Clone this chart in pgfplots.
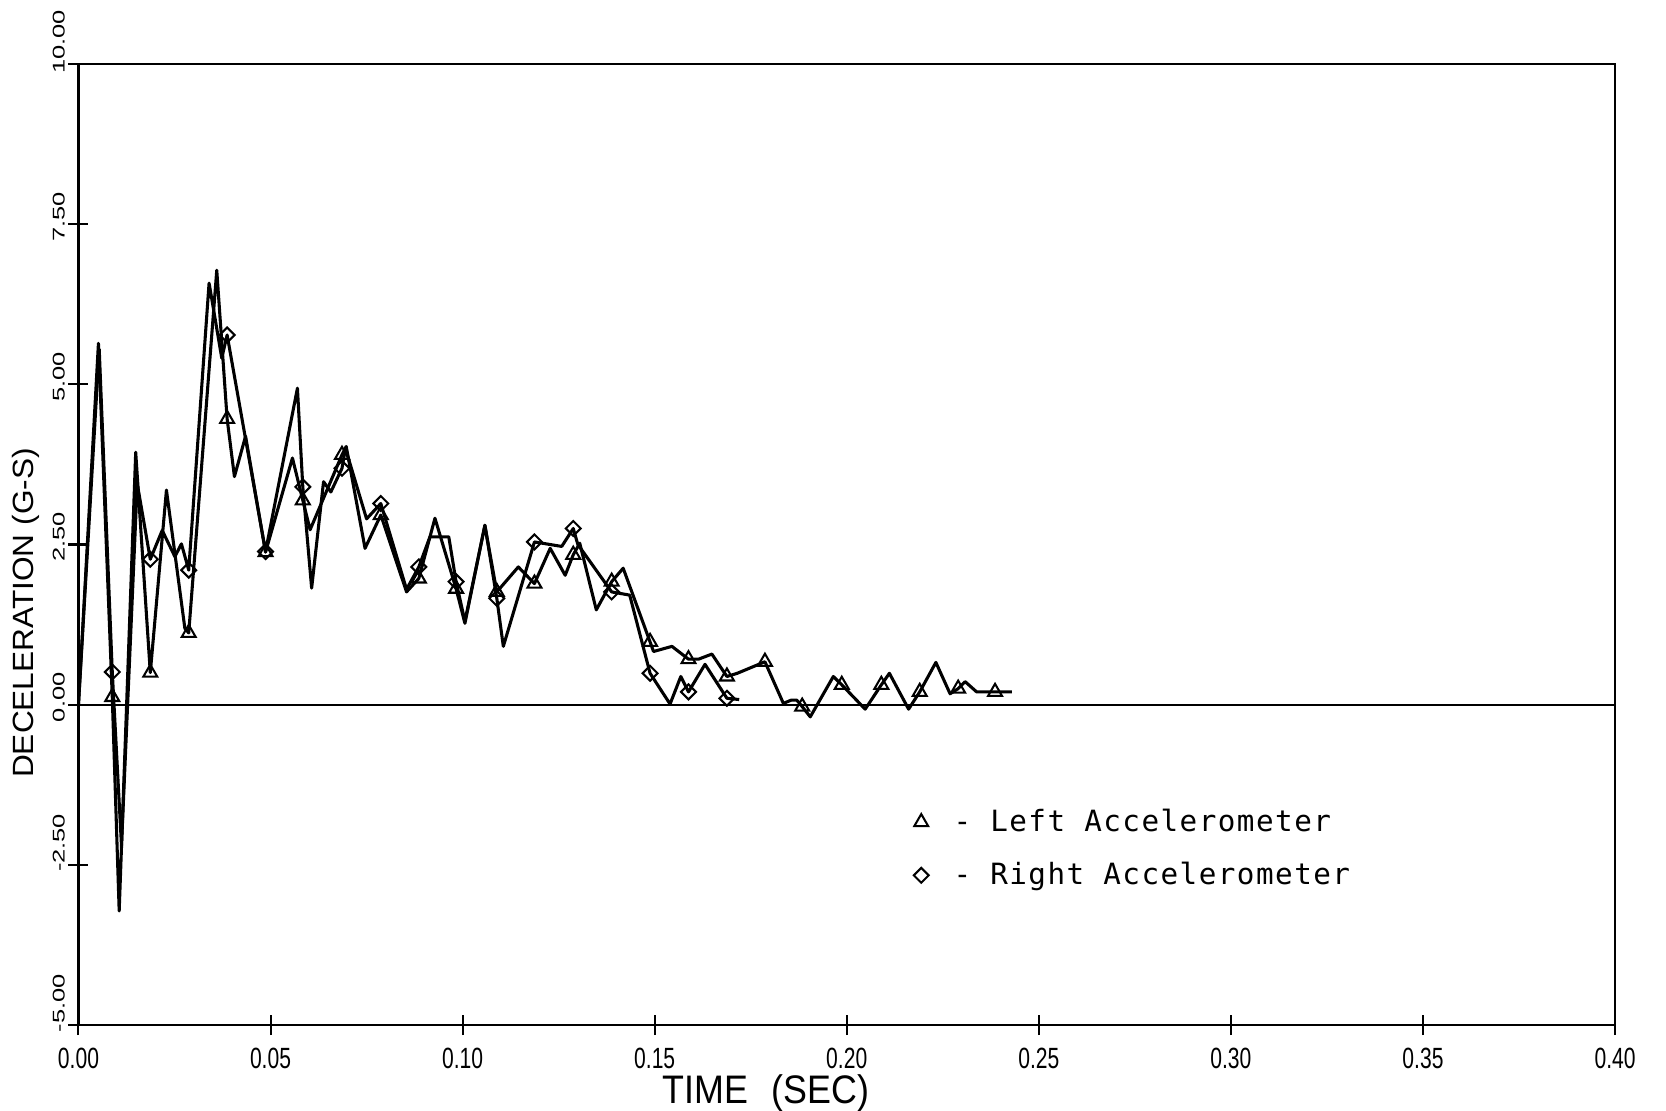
\documentclass[border=0pt]{standalone}
\usepackage{fontspec}
\setmainfont{Liberation Sans}
\newfontfamily\xtickfont[FakeStretch=0.72]{Liberation Sans}
\newfontfamily\ytickfont[FakeStretch=1.5]{Liberation Sans}
\newfontfamily\xlabfont[FakeStretch=0.9]{Liberation Sans}
\newfontfamily\ylabfont[FakeStretch=1.08]{Liberation Sans}
\newfontfamily\legfont[LetterSpace=5]{DejaVu Sans Mono}
\usepackage{pgfplots}
\pgfplotsset{compat=1.18}

\begin{document}
\begin{tikzpicture}
\begin{axis}[
  scale only axis,
  width=18.446cm, height=11.537cm,
  xmin=0, xmax=0.4, ymin=-5, ymax=10,
  xtick={0,0.05,0.1,0.15,0.2,0.25,0.3,0.35,0.4},
  ytick={-5,-2.5,0,2.5,5,7.5,10},
  % plotter-style placement: longer labels sit above their tick
  yticklabels={{\hspace*{15pt}-5.00},{\hspace*{15pt}-2.50},{\hspace*{5pt}0.00},
    {\hspace*{5pt}2.50},{\hspace*{5pt}5.00},{\hspace*{5pt}7.50},{\hspace*{15pt}10.00}},
  scaled x ticks=false, scaled y ticks=false,
  xtick pos=bottom, ytick pos=left,
  tick align=center,
  major tick length=0.24cm,
  every tick/.style={black, line width=0.7pt},
  axis line style={line width=0.8pt},
  /pgf/number format/fixed,
  /pgf/number format/fixed zerofill,
  /pgf/number format/precision=2,
  /pgf/number format/assume math mode=true,
  xticklabel style={font=\fontsize{10}{12}\xtickfont, anchor=base, inner sep=0pt},
  xticklabel shift=0.40cm,
  yticklabel style={font=\fontsize{5.8}{7}\ytickfont, rotate=90, anchor=base, inner sep=0pt},
  yticklabel shift=0.045cm,
  xlabel={TIME\hspace{8pt}(SEC)},
  xlabel style={font=\fontsize{13.6}{16}\xlabfont, inner sep=0pt, anchor=base,
    at={([yshift=-0.94cm]axis description cs:0.4475,0)}},
  ylabel={DECELERATION (G-S)},
  ylabel style={font=\fontsize{10}{12}\ylabfont, inner sep=0pt, anchor=base, rotate=0,
    at={([xshift=-0.54cm]axis description cs:0,0.4287)}},
  legend image code/.code={\draw[#1, mark repeat=1] plot coordinates {(0cm,0.6pt)};},
  legend cell align=left,
  legend style={at={(axis cs:0.2173,-1.623)}, anchor=north west, draw=none, fill=none,
    inner sep=0pt, row sep=8.15pt, column sep=8.5pt,
    font=\fontsize{10}{12}\legfont,
    nodes={inner sep=0pt, text height=7.5pt, text depth=2.5pt}},
]
% zero line
\addplot[line width=0.7pt, forget plot] coordinates {(0,0) (0.4,0)};

% left accelerometer
\addplot[black, line width=1.05pt, line join=round, forget plot] coordinates {
  (0,0.0) (0.0052,5.64) (0.0088,0.12) (0.0106,-3.22) (0.0149,3.94) (0.0187,0.50)
  (0.0229,3.35) (0.0277,1.19) (0.0287,1.12) (0.0360,6.78) (0.0387,4.46) (0.0406,3.56)
  (0.0435,4.19) (0.0487,2.38) (0.0557,3.85) (0.0584,3.19) (0.0603,2.73) (0.0686,3.90)
  (0.0697,4.03) (0.0746,2.44) (0.0787,2.96) (0.0854,1.76) (0.0886,1.97) (0.0928,2.91)
  (0.0983,1.81) (0.1006,1.27) (0.1058,2.80) (0.1089,1.76) (0.1145,2.15) (0.1187,1.89)
  (0.1228,2.44) (0.1267,2.02) (0.1288,2.34) (0.1305,2.52) (0.1348,1.48) (0.1388,1.92)
  (0.1418,2.13) (0.1488,0.98) (0.1497,0.83) (0.1545,0.91) (0.1588,0.71) (0.1614,0.71)
  (0.1649,0.79) (0.1688,0.44) (0.1715,0.49) (0.1787,0.67) (0.1835,0.02) (0.1855,0.07)
  (0.1870,0.07) (0.1884,-0.03) (0.1905,-0.19) (0.1965,0.44) (0.1987,0.31) (0.2048,-0.07)
  (0.2090,0.31) (0.2111,0.49) (0.2161,-0.07) (0.2190,0.20) (0.2232,0.66) (0.2269,0.17)
  (0.2290,0.25) (0.2308,0.36) (0.2338,0.20) (0.2386,0.20) (0.2430,0.20)
};
% right accelerometer
\addplot[black, line width=1.05pt, line join=round, forget plot] coordinates {
  (0,0.0) (0.0054,5.55) (0.0088,0.51) (0.0112,-2.20) (0.0153,3.45) (0.0187,2.27)
  (0.0218,2.72) (0.0251,2.31) (0.0268,2.51) (0.0287,2.10) (0.0340,6.58) (0.0373,5.41)
  (0.0387,5.77) (0.0487,2.39) (0.0570,4.94) (0.0584,3.40) (0.0607,1.82) (0.0638,3.48)
  (0.0657,3.32) (0.0686,3.69) (0.0695,4.00) (0.0750,2.90) (0.0787,3.14) (0.0854,1.80)
  (0.0886,2.15) (0.0915,2.62) (0.0964,2.62) (0.0983,1.92) (0.1006,1.30) (0.1058,2.80)
  (0.1089,1.66) (0.1106,0.91) (0.1187,2.54) (0.1258,2.47) (0.1288,2.75) (0.1300,2.50)
  (0.1388,1.76) (0.1435,1.71) (0.1488,0.49) (0.1540,0.01) (0.1568,0.44) (0.1588,0.20)
  (0.1631,0.63) (0.1688,0.10) (0.1720,0.08)
};

\addplot[only marks, mark=triangle, mark size=2.75pt, mark options={solid, line width=0.7pt}]
coordinates {
  (0.0088,0.12) (0.0187,0.50) (0.0287,1.12) (0.0387,4.46) (0.0487,2.38) (0.0584,3.19)
  (0.0686,3.90) (0.0787,2.96) (0.0886,1.97) (0.0983,1.81) (0.1089,1.76) (0.1187,1.89)
  (0.1288,2.34) (0.1388,1.92) (0.1488,0.98) (0.1588,0.71) (0.1688,0.44) (0.1787,0.67)
  (0.1884,-0.03) (0.1987,0.31) (0.2090,0.31) (0.2190,0.20) (0.2290,0.25) (0.2386,0.20)
};
\addlegendentry{- Left Accelerometer}
\addplot[only marks, mark=square, mark size=1.8pt, mark options={solid, rotate=45, line width=0.7pt}]
coordinates {
  (0.0088,0.51) (0.0187,2.27) (0.0287,2.10) (0.0387,5.77) (0.0487,2.39) (0.0584,3.40)
  (0.0686,3.69) (0.0787,3.14) (0.0886,2.15) (0.0983,1.92) (0.1089,1.66) (0.1187,2.54)
  (0.1288,2.75) (0.1388,1.76) (0.1488,0.49) (0.1588,0.20) (0.1688,0.10)
};
\addlegendentry{- Right Accelerometer}
\end{axis}
\pgfresetboundingbox
\path ([xshift=-0.942cm,yshift=-1.02cm]current axis.south west)
  rectangle ([xshift=0.612cm,yshift=0.768cm]current axis.north east);
\end{tikzpicture}
\end{document}
